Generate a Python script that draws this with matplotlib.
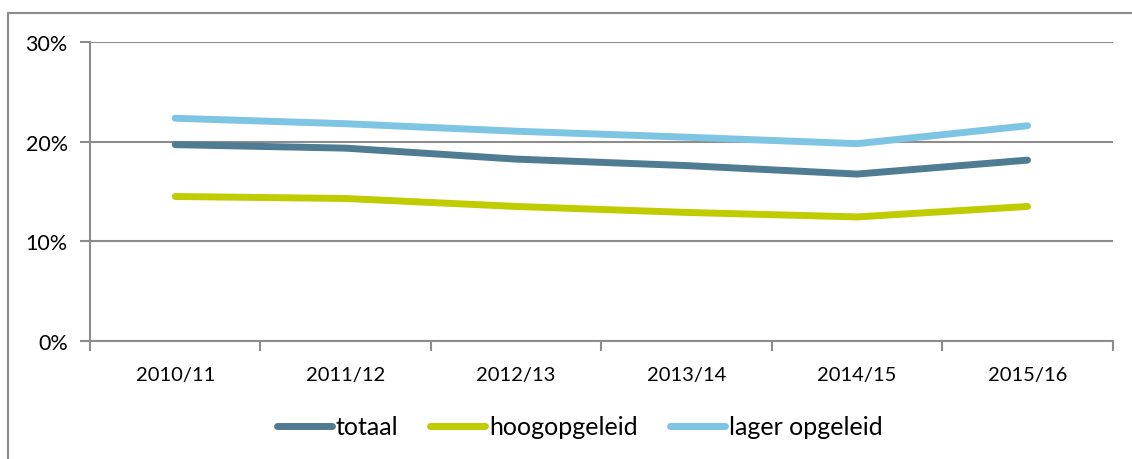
import matplotlib.pyplot as plt
from matplotlib.patches import Rectangle
import numpy as np

plt.rcParams['font.family'] = ['Lato', 'DejaVu Sans']

years = ['2010/11', '2011/12', '2012/13', '2013/14', '2014/15', '2015/16']
totaal = [19.7, 19.35, 18.25, 17.6, 16.75, 18.15]
hoogopgeleid = [14.5, 14.3, 13.5, 12.9, 12.45, 13.5]
lager_opgeleid = [22.35, 21.8, 21.05, 20.45, 19.8, 21.6]

series = [('totaal', totaal, '#4F7C93'),
          ('hoogopgeleid', hoogopgeleid, '#BFCD00'),
          ('lager opgeleid', lager_opgeleid, '#7EC4E3')]

fig = plt.figure(figsize=(11.32, 4.6), dpi=100)
ax = fig.add_axes([0.0795, 0.2565, 0.9035, 0.65])

x = np.arange(len(years))
for name, vals, col in series:
    ax.plot(x, vals, color=col, lw=5, solid_capstyle='round', label=name)

ax.set_xlim(-0.5, len(years) - 0.5)
ax.set_ylim(0, 30)
ax.set_yticks([0, 10, 20, 30])
ax.set_yticklabels(['0%', '10%', '20%', '30%'])
ax.set_xticks(x)
ax.set_xticklabels(years)
ax.set_xticks(np.arange(-0.5, len(years)), minor=True)
ax.tick_params(axis='x', which='major', length=0, pad=18, labelsize=14.5)
ax.tick_params(axis='x', which='minor', length=7, width=1.5, color='#8C8C8C', direction='out')
ax.tick_params(axis='y', length=7, width=1.5, color='#8C8C8C', labelsize=15.5, pad=9)

ax.grid(axis='y', color='#8C8C8C', lw=1.5)
ax.set_axisbelow(True)
for s in ['top', 'right']:
    ax.spines[s].set_visible(False)
for s in ['left', 'bottom']:
    ax.spines[s].set_color('#8C8C8C')
    ax.spines[s].set_linewidth(1.5)

leg = fig.legend(loc='center', bbox_to_anchor=(0.512, 0.07), ncol=3, frameon=False,
                 fontsize=18, handlelength=2.2, handletextpad=0.15, columnspacing=1.3)

# outer chart frame
fig.add_artist(Rectangle((8 / 1132, -0.1), 1.2, 1.1 - 14 / 460, transform=fig.transFigure,
                         fill=False, edgecolor='#8C8C8C', lw=1.5))

fig.savefig('out.png', dpi=100)
